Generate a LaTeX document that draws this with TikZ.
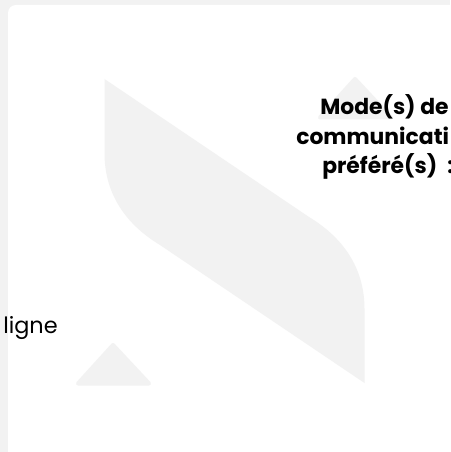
\documentclass[tikz,border=0pt]{standalone}
\usepackage{fontspec}
\setmainfont{Poppins}
\definecolor{bgrey}{HTML}{F2F2F2}
\tikzset{
  x=0.75pt,y=-0.75pt,
  mark shape/.style={fill=bgrey,draw=none},
  tri shape/.style={fill=bgrey,draw=bgrey,line width=3pt,line join=round},
  label text/.style={inner sep=0pt,text=black,font=\fontsize{16.8}{20}\selectfont},
  bold text/.style={inner sep=0pt,text=black,font=\bfseries\fontsize{16.4}{20}\selectfont}
}
\begin{document}
\begin{tikzpicture}
\useasboundingbox (0,0) rectangle (450,452);
\fill[bgrey] (0,0) rectangle (450,452);
\fill[white,rounded corners=6pt] (8,5) rectangle (470,460);
\fill[mark shape] (104.5,79) -- (104.5,153) .. controls (104.5,190) and (122,222) .. (160,245) -- (364.5,383) -- (364.5,309) .. controls (364.5,272) and (347,240) .. (309,217) -- cycle;
\draw[tri shape] (355,79) -- (320,117.5) -- (391,117.5) -- cycle;
\draw[tri shape] (113,345) -- (78,383.5) -- (149,383.5) -- cycle;
\node[bold text,anchor=base west] (modea) at (320,115) {Mode(s) de};
\node[bold text,anchor=base west] (modeb) at (296,145) {communicati};
\node[bold text,anchor=base west] (modec) at (322,173) {préféré(s)};
\node[bold text,anchor=base west] (colon) at (447,173) {:};
\node[label text,anchor=base west] (ligne) at (3,333) {ligne};
\end{tikzpicture}
\end{document}
